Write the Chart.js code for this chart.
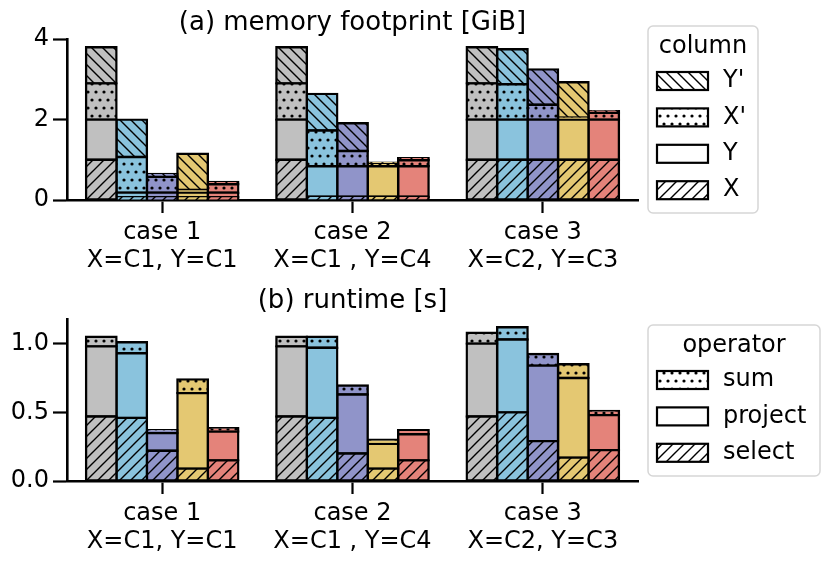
<!DOCTYPE html>
<html>
<head>
<meta charset="utf-8">
<script src="https://cdn.jsdelivr.net/npm/chart.js@4.4.1/dist/chart.umd.min.js"></script>
<style>
  html, body { margin: 0; padding: 0; background: #fff; }
  canvas { display: block; }
</style>
</head>
<body>
<canvas id="memChart" width="830" height="281"></canvas>
<canvas id="timeChart" width="830" height="281"></canvas>
<script>
// Esetek (x tengely)
const cases = [["case 1", "X=C1, Y=C1"], ["case 2", "X=C1 , Y=C4"], ["case 3", "X=C2, Y=C3"]];

// (a) memória [GiB] - soronként egy oszlop (szürke, kék, lila, sárga, piros), esetenként egy érték
const memX  = [[1.0, 1.0, 1.0], [0.07, 0.08, 1.0], [0.07, 0.08, 1.0], [0.07, 0.08, 1.0], [0.07, 0.08, 1.0]];
const memY  = [[1.0, 1.0, 1.0], [0.11, 0.76, 1.0], [0.11, 0.76, 1.0], [0.11, 0.76, 1.0], [0.11, 0.76, 1.0]];
const memXp = [[0.9, 0.9, 0.9], [0.89, 0.89, 0.88], [0.40, 0.38, 0.37], [0.07, 0.05, 0.05], [0.21, 0.15, 0.17]];
const memYp = [[0.9, 0.9, 0.9], [0.93, 0.91, 0.87], [0.07, 0.69, 0.88], [0.90, 0.04, 0.88], [0.06, 0.05, 0.04]];

// (b) futásidő [s]
const timeSelect  = [[0.47, 0.47, 0.47], [0.46, 0.46, 0.50], [0.22, 0.20, 0.29], [0.09, 0.09, 0.17], [0.15, 0.15, 0.225]];
const timeProject = [[0.51, 0.51, 0.53], [0.47, 0.51, 0.53], [0.13, 0.43, 0.55], [0.55, 0.18, 0.58], [0.21, 0.19, 0.255]];
const timeSum     = [[0.07, 0.07, 0.08], [0.08, 0.08, 0.09], [0.02, 0.065, 0.085], [0.10, 0.03, 0.10], [0.025, 0.03, 0.03]];

// Tengely beosztások
const memTicks = [0, 2, 4];
const timeTicks = [0, 0.5, 1.0];

// Stílus
const barColors = ['#c0c0c0', '#8ac3dd', '#9094c9', '#e4c872', '#e4837a'];
const FONT = "'DejaVu Sans', sans-serif";
const FS = 24;

// Sraffozás mintázat készítése
function makePattern(kind, bg) {
    if (kind === 'none') return bg;
    const s = kind === 'dots' ? 16 : 11;
    const c = document.createElement('canvas');
    c.width = s; c.height = s;
    const ctx = c.getContext('2d');
    ctx.fillStyle = bg;
    ctx.fillRect(0, 0, s, s);
    ctx.strokeStyle = '#000';
    ctx.fillStyle = '#000';
    ctx.lineWidth = 1.4;
    ctx.beginPath();
    if (kind === 'fwd') {
        ctx.moveTo(-1, s + 1); ctx.lineTo(s + 1, -1);
        ctx.moveTo(-1, 1); ctx.lineTo(1, -1);
        ctx.moveTo(s - 1, s + 1); ctx.lineTo(s + 1, s - 1);
        ctx.stroke();
    } else if (kind === 'back') {
        ctx.moveTo(-1, -1); ctx.lineTo(s + 1, s + 1);
        ctx.moveTo(s - 1, -1); ctx.lineTo(s + 1, 1);
        ctx.moveTo(-1, s - 1); ctx.lineTo(1, s + 1);
        ctx.stroke();
    } else {
        [[4, 4], [12, 4], [0, 12], [8, 12], [16, 12]].forEach(([x, y]) => {
            ctx.moveTo(x + 1.6, y);
            ctx.arc(x, y, 1.6, 0, Math.PI * 2);
        });
        ctx.fill();
    }
    return ctx.createPattern(c, 'repeat');
}

// Halmozott oszlopok: oszloponként (szín) egy stack, alulról felfelé a rétegek
function buildDatasets(layers) {
    const sets = [];
    barColors.forEach((col, i) => {
        layers.forEach(layer => {
            sets.push({
                label: layer.name,
                data: layer.values[i],
                stack: 's' + i,
                backgroundColor: makePattern(layer.hatch, col),
                borderColor: '#000',
                borderWidth: 2.4,
                borderSkipped: false,
                inflateAmount: 1.2,
                categoryPercentage: 0.8,
                barPercentage: 1.0
            });
        });
    });
    return sets;
}

// Keretes jelmagyarázat rajzolása
const legendBoxPlugin = {
    id: 'legendBox',
    afterDraw(chart, args, opts) {
        const ctx = chart.ctx;
        ctx.save();
        ctx.beginPath();
        ctx.roundRect(opts.x, opts.y, opts.w, opts.h, 5);
        ctx.fillStyle = 'rgba(255,255,255,0.8)';
        ctx.fill();
        ctx.strokeStyle = '#d6d6d6';
        ctx.lineWidth = 1.5;
        ctx.stroke();
        ctx.font = FS + 'px ' + FONT;
        ctx.fillStyle = '#000';
        ctx.textBaseline = 'middle';
        ctx.textAlign = 'center';
        ctx.fillText(opts.title, opts.x + opts.w / 2, opts.y + 21);
        ctx.textAlign = 'left';
        opts.items.forEach((item, k) => {
            const cy = opts.y + 55 + k * 36.4;
            ctx.fillStyle = makePattern(item.hatch, '#fff');
            ctx.fillRect(opts.x + 9, cy - 9, 51, 18);
            ctx.strokeStyle = '#000';
            ctx.lineWidth = 2.2;
            ctx.strokeRect(opts.x + 9, cy - 9, 51, 18);
            ctx.fillStyle = '#000';
            ctx.fillText(item.label, opts.x + 75, cy);
        });
        ctx.restore();
    }
};

function makeChart(id, title, titlePad, datasets, yMax, yTicks, fmt, legend) {
    return new Chart(document.getElementById(id), {
        type: 'bar',
        data: { labels: cases, datasets: datasets },
        options: {
            responsive: false,
            animation: false,
            layout: { padding: { left: 0, right: 192, top: 0, bottom: 0 } },
            scales: {
                x: {
                    stacked: true,
                    grid: { display: true, drawOnChartArea: false, offset: false, tickLength: 13, tickWidth: 2.2, tickColor: '#000' },
                    border: { display: true, color: '#000', width: 2.6 },
                    ticks: { color: '#000', padding: 6, font: { family: FONT, size: FS, lineHeight: 1.15 } },
                    afterFit: s => { s.height = 81; }
                },
                y: {
                    stacked: true,
                    min: 0,
                    max: yMax,
                    grid: { display: true, drawOnChartArea: false, tickLength: 14, tickWidth: 2.2, tickColor: '#000' },
                    border: { display: true, color: '#000', width: 2.6 },
                    ticks: { color: '#000', padding: 4, font: { family: FONT, size: FS }, callback: fmt },
                    afterBuildTicks: s => { s.ticks = yTicks.map(v => ({ value: v })); },
                    afterFit: s => { s.width = 67; }
                }
            },
            plugins: {
                legend: { display: false },
                tooltip: { enabled: false },
                title: {
                    display: true,
                    text: title,
                    fullSize: false,
                    color: '#000',
                    font: { family: FONT, size: 26, weight: 'normal', lineHeight: 1.2 },
                    padding: titlePad
                },
                legendBox: legend
            }
        },
        plugins: [legendBoxPlugin]
    });
}

// (a) memória diagram
makeChart('memChart', '(a) memory footprint [GiB]', { top: 7.5, bottom: 0.5 },
    buildDatasets([
        { name: 'X', values: memX, hatch: 'fwd' },
        { name: 'Y', values: memY, hatch: 'none' },
        { name: "X'", values: memXp, hatch: 'dots' },
        { name: "Y'", values: memYp, hatch: 'back' }
    ]),
    4, memTicks, v => String(v),
    { x: 648, y: 26, w: 110, h: 187, title: 'column',
      items: [{ label: "Y'", hatch: 'back' }, { label: "X'", hatch: 'dots' }, { label: 'Y', hatch: 'none' }, { label: 'X', hatch: 'fwd' }] });

// (b) futásidő diagram
makeChart('timeChart', '(b) runtime [s]', { top: 5, bottom: 2.3 },
    buildDatasets([
        { name: 'select', values: timeSelect, hatch: 'fwd' },
        { name: 'project', values: timeProject, hatch: 'none' },
        { name: 'sum', values: timeSum, hatch: 'dots' }
    ]),
    1.176, timeTicks, v => v.toFixed(1),
    { x: 648, y: 44, w: 172, h: 151, title: 'operator',
      items: [{ label: 'sum', hatch: 'dots' }, { label: 'project', hatch: 'none' }, { label: 'select', hatch: 'fwd' }] });
</script>
</body>
</html>
